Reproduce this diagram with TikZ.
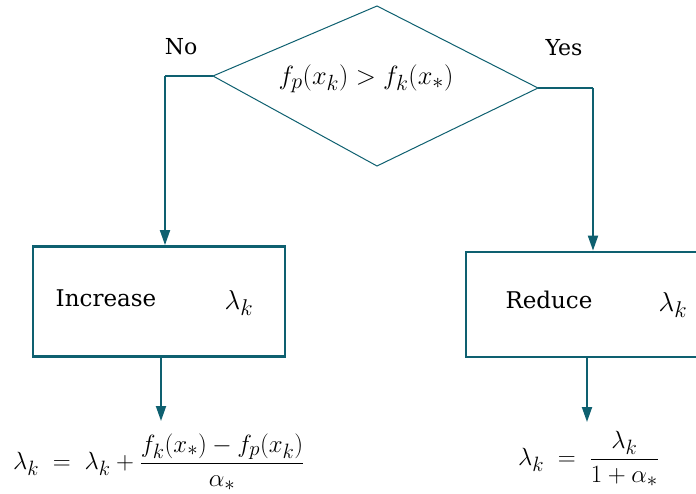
\documentclass[tikz,border=0pt]{standalone}
\usepackage{amsmath}
\usepackage{graphicx}
\usepackage{fontspec}
\newfontfamily\txtfont{DejaVu Serif}
\usetikzlibrary{arrows.meta}
\definecolor{teal1}{RGB}{14,96,112}
\begin{document}
\begin{tikzpicture}[x=1pt,y=-1pt,
  conn/.style={draw=teal1,line width=1.9pt,-{Triangle[length=15pt,width=10pt]}},
  boxst/.style={draw=teal1,line width=2.8pt,minimum width=252pt,minimum height=110pt,inner sep=0pt},
  lbl/.style={inner sep=0pt,font=\txtfont\fontsize{22}{26}\selectfont},
  txt/.style={inner sep=0pt,font=\txtfont\fontsize{23}{27}\selectfont},
  bigt/.style={inner sep=0pt,font=\fontsize{24.88}{30}\selectfont}]
\clip (0,0) rectangle (696,494);
\fill[white] (0,0) rectangle (696,494);
% diamond
\coordinate (dT) at (377,6);
\coordinate (dL) at (213,76);
\coordinate (dR) at (538,88);
\coordinate (dB) at (377,166);
\draw[teal1,line width=1pt] (dT) -- (dL) -- (dB) -- (dR) -- cycle;
\node[bigt] (cond) at (366,79) {\scalebox{1.06}{$f_p(x_k) > f_k(x_*)$}};
\node[lbl] (no) at (181,47) {No};
\node[lbl] (yes) at (564,48) {Yes};
% boxes
\node[boxst] (inc) at (159,301.5) {};
\node[boxst,minimum width=254pt,minimum height=105pt] (red) at (593,304.5) {};
\node[txt] (inct) at (106,298) {Increase};
\node[bigt] (incl) at (239,303) {\scalebox{1.1}{$\lambda_k$}};
\node[txt] (redt) at (549,300) {Reduce};
\node[bigt] (redl) at (673,305) {\scalebox{1.1}{$\lambda_k$}};
% connectors
\coordinate (noc) at (165,76);
\coordinate (yesc) at (593,88);
\draw[teal1,line width=1.9pt] (dL) -- (noc);
\draw[conn] (noc) -- (noc |- inc.north);
\draw[teal1,line width=1.9pt] (dR) -- (yesc);
\draw[conn] (yesc) -- (yesc |- red.north);
% formulas
\node[bigt,anchor=west] (fl) at (13,462) {$\lambda_k \;=\; \lambda_k + \dfrac{f_k(x_*) - f_p(x_k)}{\alpha_*}$};
\node[bigt,anchor=west] (fr) at (518,459) {$\lambda_k \;=\; \dfrac{\lambda_k}{1+\alpha_*}$};
\coordinate (fla) at (161,421);
\coordinate (fra) at (587,422);
\draw[conn] (inc.south -| fla) -- (fla);
\draw[conn] (red.south -| fra) -- (fra);
\end{tikzpicture}
\end{document}
